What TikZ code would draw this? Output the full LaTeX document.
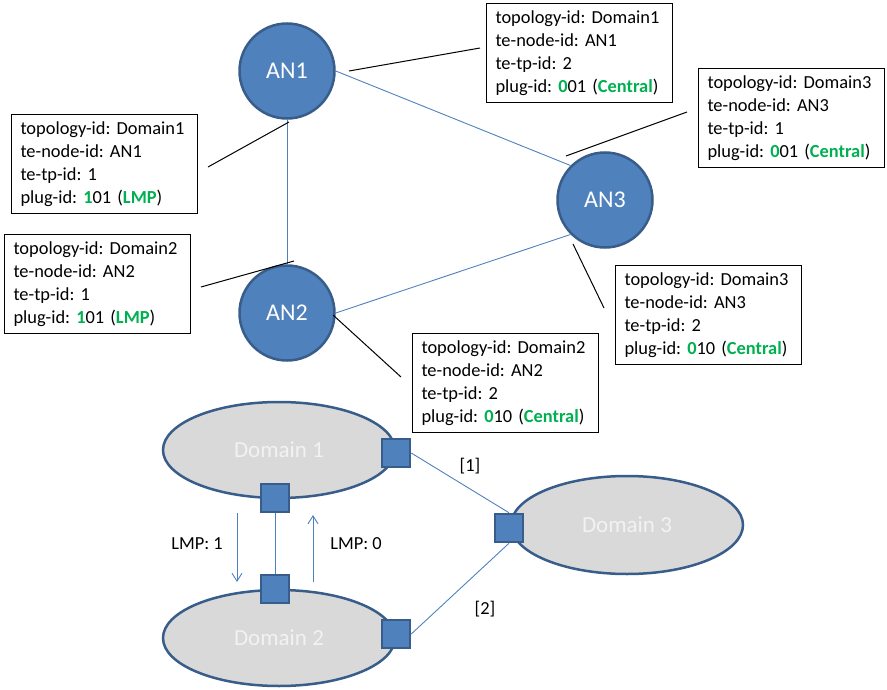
\documentclass[tikz,border=0pt]{standalone}
\usepackage{fontspec}
\setmainfont{Carlito}
\usepackage{tikz}
\usetikzlibrary{shapes.geometric, arrows.meta}

\definecolor{anblue}{HTML}{4F81BD}
\definecolor{anedge}{HTML}{385D8A}
\definecolor{plgreen}{HTML}{00B050}
\definecolor{domgray}{HTML}{D9D9D9}

\newcommand{\plugid}[3]{plug-id: \textbf{\textcolor{plgreen}{#1}}#2 (\textbf{\textcolor{plgreen}{#3}})}
\newcommand{\infofont}{\fontsize{18.4}{22.8}\selectfont\frenchspacing\hyphenpenalty=10000\relax}

\tikzset{
    annode/.style={circle, fill=anblue, draw=anedge, line width=2.5pt,
        minimum size=95pt, inner sep=0pt, text=white,
        font=\fontsize{24}{28}\selectfont},
    infobox/.style={draw=black, line width=1pt, anchor=north west,
        align=left, text width=168pt, inner xsep=9pt, minimum height=99pt,
        font=\infofont},
    domellipse/.style={ellipse, fill=domgray, draw=anedge, line width=2.5pt,
        minimum width=232pt, minimum height=96pt, inner sep=0pt,
        text=white!95!black, font=\fontsize{23}{27}\selectfont},
    tpport/.style={rectangle, fill=anblue, draw=anedge, line width=2.5pt,
        minimum size=28pt, inner sep=0pt},
    anlink/.style={draw=anblue, line width=0.9pt},
    calloutline/.style={draw=black, line width=1pt},
    lbl/.style={font=\infofont}
}

\begin{document}
\begin{tikzpicture}[x=1pt, y=-1pt]

    \useasboundingbox (0,0) rectangle (887,690);

    % abstract nodes
    \node[annode] (AN1) at (287,71) {AN1};
    \node[annode] (AN2) at (287,313) {AN2};
    \node[annode] (AN3) at (605,200) {AN3};

    \draw[anlink] (AN1) -- (AN2);
    \draw[anlink] (AN1.east) -- (AN3.north west);
    \draw[anlink] (AN2.east) -- (AN3.south west);

    % info boxes
    \node[infobox] (tp12) at (486,3)
    {topology-id: Domain1\\ te-node-id: AN1\\ te-tp-id: 2\\ \plugid{0}{01}{Central}};
    \node[infobox] (tp31) at (698,68)
    {topology-id: Domain3\\ te-node-id: AN3\\ te-tp-id: 1\\ \plugid{0}{01}{Central}};
    \node[infobox] (tp11) at (11,114)
    {topology-id: Domain1\\ te-node-id: AN1\\ te-tp-id: 1\\ \plugid{1}{01}{LMP}};
    \node[infobox] (tp21) at (4,234)
    {topology-id: Domain2\\ te-node-id: AN2\\ te-tp-id: 1\\ \plugid{1}{01}{LMP}};
    \node[infobox] (tp32) at (615,265)
    {topology-id: Domain3\\ te-node-id: AN3\\ te-tp-id: 2\\ \plugid{0}{10}{Central}};
    \node[infobox] (tp22) at (412,333)
    {topology-id: Domain2\\ te-node-id: AN2\\ te-tp-id: 2\\ \plugid{0}{10}{Central}};

    % callout lines
    \coordinate (c12) at (349,71);
    \coordinate (c31) at (566,156);
    \coordinate (c11) at (289,122);
    \coordinate (c21) at (294,261);
    \coordinate (c32) at (573,244);
    \coordinate (c22) at (333,315);
    \coordinate (e12) at (480,48);
    \coordinate (e31) at (687,112);
    \coordinate (e11) at (208,167);
    \coordinate (e21) at (201,287);
    \coordinate (e32) at (604,308);
    \coordinate (e22) at (401,377);

    \draw[calloutline] (c12) -- (e12);
    \draw[calloutline] (c31) -- (e31);
    \draw[calloutline] (c11) -- (e11);
    \draw[calloutline] (c21) -- (e21);
    \draw[calloutline] (c32) -- (e32);
    \draw[calloutline] (c22) -- (e22);

    % domains
    \node[domellipse] (D1) at (279,450) {Domain 1};
    \node[domellipse] (D2) at (279,638) {Domain 2};
    \node[domellipse, minimum height=98pt] (D3) at (627,525) {Domain 3};

    \node[tpport] (p1e) at (396,453) {};
    \node[tpport] (p1s) at (275,498) {};
    \node[tpport] (p2n) at (275,589) {};
    \node[tpport] (p2e) at (396,634) {};
    \node[tpport] (p3w) at (509,528) {};

    \draw[anlink] (p1e.east) -- (p3w.north);
    \draw[anlink] (p2e.east) -- (p3w.south);
    \draw[anlink] (p1s) -- (p2n);

    % LMP exchange
    \coordinate (a1s) at (237,513);
    \coordinate (a1e) at (237,582);
    \coordinate (a0s) at (313,582);
    \coordinate (a0e) at (313,515);
    \draw[-{Straight Barb[length=8pt, width=10pt]}, anlink] (a1s) -- (a1e);
    \draw[-{Straight Barb[length=8pt, width=10pt]}, anlink] (a0s) -- (a0e);

    \node[lbl] (lmp1) at (197,544) {LMP: 1};
    \node[lbl] (lmp0) at (356,544) {LMP: 0};
    \node[lbl] (lk1) at (470,466) {[1]};
    \node[lbl] (lk2) at (485,609) {[2]};

\end{tikzpicture}
\end{document}
